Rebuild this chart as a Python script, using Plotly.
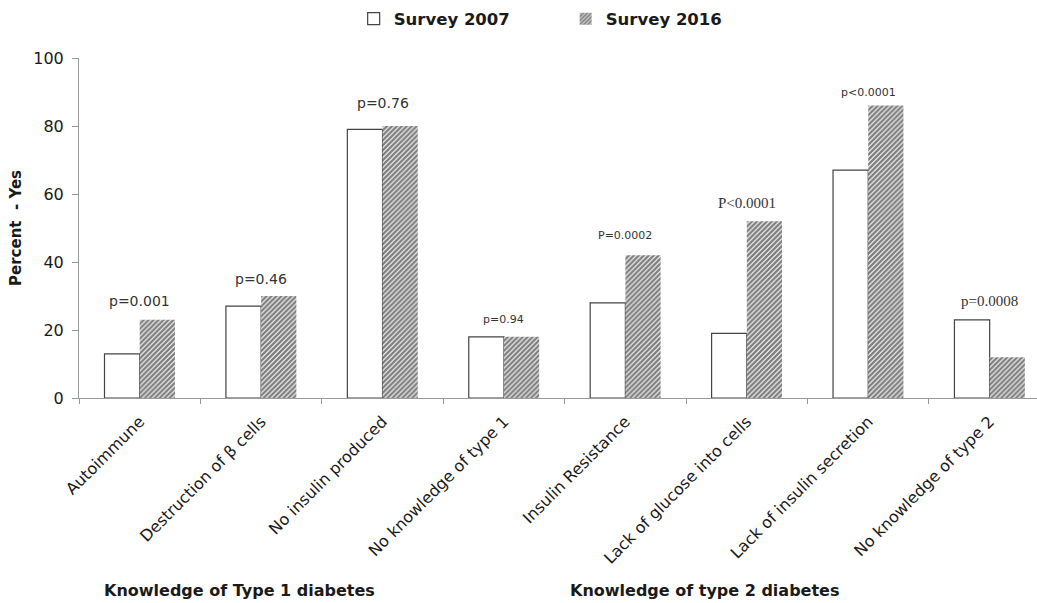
import plotly.graph_objects as go

categories = [
    "Autoimmune", "Destruction of β cells", "No insulin produced", "No knowledge of type 1",
    "Insulin Resistance", "Lack of glucose into cells", "Lack of insulin secretion", "No knowledge of type 2",
]
survey_2007 = [13, 27, 79, 18, 28, 19, 67, 23]
survey_2016 = [23, 30, 80, 18, 42, 52, 86, 12]
p_labels = ["p=0.001", "p=0.46", "p=0.76", "p=0.94", "P=0.0002", "P<0.0001", "p<0.0001", "p=0.0008"]
p_fonts = ["DejaVu Sans", "DejaVu Sans", "DejaVu Sans", "DejaVu Sans", "DejaVu Sans",
           "Liberation Serif", "DejaVu Sans", "Liberation Serif"]
p_sizes = [14, 14, 14, 11, 11, 15, 11, 15]
p_offsets = [2.7, 2.2, 3.7, 2.7, 3.3, 2.3, 1.3, 2.7]
group_titles = ["Knowledge of Type 1 diabetes", "Knowledge of type 2 diabetes"]

SANS = "DejaVu Sans"
TXT = "#1a1a1a"

fig = go.Figure()
fig.add_trace(go.Bar(
    name="Survey 2007", x=categories, y=survey_2007,
    marker=dict(color="white", line=dict(color="#444444", width=1.2)),
))
fig.add_trace(go.Bar(
    name="Survey 2016", x=categories, y=survey_2016,
    marker=dict(color="white", line=dict(color="#333333", width=0),
                pattern=dict(shape="/", fgcolor="#000000", bgcolor="white",
                             size=3.5, solidity=0.7)),
))

# p-value labels above each category's taller bar
for cat, a, b, lab, fnt, sz, off in zip(categories, survey_2007, survey_2016,
                                          p_labels, p_fonts, p_sizes, p_offsets):
    fig.add_annotation(x=cat, y=max(a, b) + off, text=lab, showarrow=False,
                       xanchor="center", yanchor="bottom",
                       font=dict(family=fnt, size=sz, color="#333333"))

# group captions under the category labels
for xp, title in zip([0.168, 0.653], group_titles):
    fig.add_annotation(xref="paper", yref="paper", x=xp, y=-0.565, text=f"<b>{title}</b>",
                       showarrow=False, xanchor="center", yanchor="middle",
                       font=dict(family=SANS, size=16, color=TXT))

fig.update_layout(
    width=1037, height=603,
    margin=dict(l=79, r=0, t=58, b=205, autoexpand=False),
    paper_bgcolor="white", plot_bgcolor="white",
    barmode="group", bargap=0.42, bargroupgap=0,
    font=dict(family=SANS, size=15, color=TXT),
    legend=dict(orientation="h", x=0.508, xanchor="center", y=1.115, yanchor="middle",
                font=dict(family=SANS, size=16.5, color=TXT, weight="bold"),
                entrywidth=167, entrywidthmode="pixels", itemwidth=30),
    showlegend=True,
)
fig.update_xaxes(
    range=[-0.5, 7.39], showline=True, linecolor="#9a9a9a", linewidth=1,
    ticks="outside", tickson="boundaries", ticklen=5, tickcolor="#9a9a9a",
    tickangle=-45, tickfont=dict(family=SANS, size=16, color=TXT), ticklabelstandoff=7,
    showgrid=False, zeroline=False,
)
fig.update_yaxes(
    range=[0, 100], dtick=20, showline=True, linecolor="#9a9a9a", linewidth=1,
    ticks="outside", ticklen=6, tickcolor="#9a9a9a",
    tickfont=dict(family=SANS, size=16, color=TXT), ticklabelstandoff=5,
    showgrid=False, zeroline=False,
    title=dict(text="<b>Percent  - Yes</b>", font=dict(family=SANS, size=15, color=TXT), standoff=8),
)

fig.write_html("out.html")
